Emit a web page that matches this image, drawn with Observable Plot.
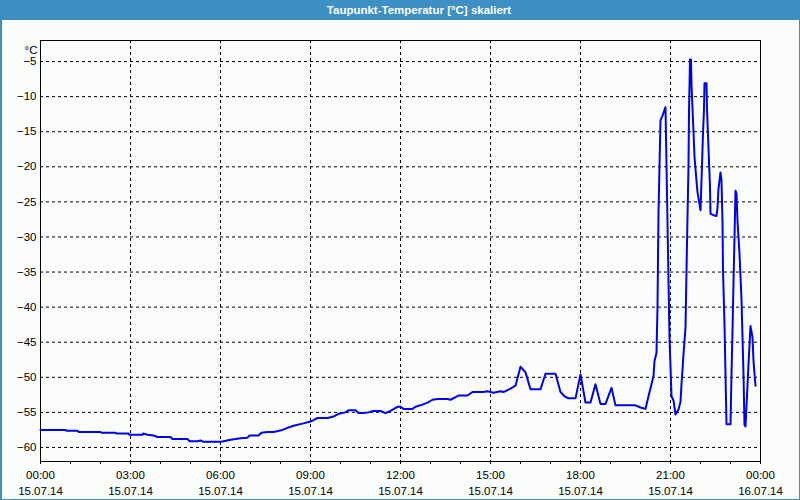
<!DOCTYPE html>
<html><head><meta charset="utf-8">
<script src="https://cdn.jsdelivr.net/npm/d3@7"></script>
<script src="https://cdn.jsdelivr.net/npm/@observablehq/plot@0.6"></script>
<style>
html,body{margin:0;padding:0;background:#fafdfa;}
#wrap{position:relative;width:800px;height:500px;overflow:hidden;background:#fafdfa;font-family:"Liberation Sans",Arial,sans-serif;}
#title{position:absolute;left:0;top:0;width:800px;height:20px;background:#3d8fc6;color:#fff;font-weight:bold;font-size:11.5px;line-height:20px;}
#title span{position:absolute;left:419px;transform:translateX(-50%);white-space:nowrap}
#chart{position:absolute;left:0;top:20px;}
.bl{position:absolute;background:#3d8fc6}
</style></head>
<body><div id="wrap"><div id="title"><span>Taupunkt-Temperatur [°C] skaliert</span></div><div id="chart"></div>
<div class="bl" style="left:0;top:0;width:2px;height:500px"></div>
<div class="bl" style="right:0;top:0;width:1px;height:500px"></div>
<div class="bl" style="left:0;bottom:0;width:800px;height:1px"></div>
</div>
<script>
const times = ["00:00","00:50","00:52","01:14","01:16","02:00","02:02","02:30","02:32","02:56","02:58","03:24","03:26","03:34","03:46","03:54","04:20","04:24","04:54","04:58","05:14","05:20","05:26","06:00","06:06","06:20","06:40","06:54","06:58","07:16","07:22","07:34","07:46","08:04","08:14","08:26","08:44","09:00","09:06","09:14","09:34","09:46","09:56","10:10","10:16","10:30","10:36","10:46","10:56","11:06","11:20","11:30","11:40","11:54","12:00","12:06","12:24","12:30","12:44","12:54","13:04","13:14","13:34","13:40","13:56","14:14","14:24","14:46","14:54","15:06","15:20","15:26","15:40","15:50","16:00","16:10","16:20","16:40","16:50","17:10","17:20","17:28","17:36","17:50","18:00","18:10","18:20","18:30","18:40","18:50","19:02","19:10","19:50","20:00","20:10","20:16","20:22","20:26","20:28","20:32","20:34","20:35","20:36","20:38","20:40","20:44","20:50","20:52","20:54","20:56","20:58","21:02","21:06","21:10","21:16","21:20","21:22","21:24","21:26","21:30","21:32","21:34","21:36","21:37","21:39","21:41","21:42","21:44","21:46","21:48","21:52","21:54","22:00","22:02","22:05","22:07","22:08","22:12","22:13","22:15","22:17","22:19","22:20","22:26","22:32","22:34","22:36","22:40","22:42","22:44","22:45","22:48","22:50","22:52","23:00","23:02","23:04","23:06","23:08","23:10","23:12","23:14","23:18","23:22","23:26","23:28","23:30","23:34","23:36","23:40","23:44","23:46","23:48","23:50"];
const values = [-57.5,-57.5,-57.6,-57.6,-57.8,-57.8,-57.9,-57.9,-58.0,-58.0,-58.2,-58.2,-58.0,-58.2,-58.3,-58.5,-58.5,-58.8,-58.8,-59.1,-59.1,-59.0,-59.2,-59.2,-59.1,-58.9,-58.7,-58.6,-58.3,-58.3,-57.9,-57.8,-57.8,-57.5,-57.2,-56.9,-56.6,-56.3,-56.1,-55.8,-55.8,-55.6,-55.2,-55.0,-54.7,-54.7,-55.1,-55.1,-55.0,-54.8,-54.8,-55.1,-54.8,-54.2,-54.2,-54.5,-54.5,-54.2,-53.9,-53.6,-53.2,-53.1,-53.1,-53.2,-52.6,-52.6,-52.1,-52.1,-52.0,-52.2,-52.0,-52.1,-51.6,-51.2,-48.5,-49.3,-51.7,-51.7,-49.5,-49.5,-52.1,-52.7,-53.0,-53.0,-49.6,-53.6,-53.6,-51.0,-53.8,-53.8,-51.5,-54.0,-54.0,-54.3,-54.5,-52.7,-51.0,-49.8,-47.7,-46.5,-40.0,-33.1,-26.7,-19.8,-13.4,-12.7,-11.5,-19.8,-27.9,-36.2,-44.3,-52.7,-53.3,-55.3,-54.6,-53.5,-51.0,-48.9,-46.7,-42.9,-34.8,-27.2,-19.8,-12.2,-4.7,-4.7,-8.3,-11.7,-15.0,-18.6,-22.0,-23.6,-26.2,-22.0,-15.2,-11.8,-8.1,-8.1,-11.8,-15.5,-19.3,-22.9,-26.7,-26.9,-27.0,-25.8,-23.1,-20.8,-22.0,-27.9,-34.8,-42.4,-49.6,-56.7,-56.7,-49.6,-43.4,-36.5,-30.1,-23.4,-23.8,-27.7,-32.4,-38.9,-49.6,-56.8,-57.0,-51.2,-48.1,-42.7,-44.3,-47.7,-49.5,-51.2];
const yTicks = [-60,-55,-50,-45,-40,-35,-30,-25,-20,-15,-10,-5];
const majorHours = [0,3,6,9,12,15,18,21,24];
const gridHours = [3,6,9,12,15,18,21];
const minorHours = d3.range(0, 25);

const at = (h, m = 0) => new Date(Date.UTC(2014, 6, 15, h, m));
const parse = s => { const [h, m] = s.split(":").map(Number); return at(h, m); };
const pad = n => String(n).padStart(2, "0");
const fmt = d => `${pad(d.getUTCHours())}:${pad(d.getUTCMinutes())}\n${pad(d.getUTCDate())}.${pad(d.getUTCMonth()+1)}.${String(d.getUTCFullYear()).slice(2)}`;

const data = times.map((t, i) => ({time: parse(t), value: values[i]}));

const chart = Plot.plot({
  width: 800, height: 480,
  marginLeft: 40, marginRight: 40, marginTop: 20, marginBottom: 39,
  style: {background: "transparent", fontFamily: "'Liberation Sans', Arial, sans-serif", fontSize: "11.5px", color: "black"},
  x: {type: "utc", domain: [at(0), at(24)]},
  y: {domain: [-62, -2]},
  marks: [
    Plot.ruleY(yTicks, {stroke: "black", strokeDasharray: "3,3", strokeWidth: 1}),
    Plot.ruleX(gridHours.map(h => at(h)), {stroke: "black", strokeDasharray: "3,3", strokeWidth: 1}),
    Plot.frame({stroke: "black"}),
    Plot.axisY({ticks: yTicks, tickSize: 0, tickPadding: 4, label: null, fill: "black"}),
    Plot.axisX({ticks: minorHours.map(h => at(h)), tickSize: 3, tickFormat: () => "", label: null}),
    Plot.axisX({ticks: majorHours.map(h => at(h)), tickSize: 3, tickPadding: 3, tickFormat: fmt, label: null, lineHeight: 1.42, fill: "black"}),
    Plot.text(["°C"], {frameAnchor: "top-left", dx: -3, dy: 5, textAnchor: "end", fill: "black"}),
    Plot.line(data, {x: "time", y: "value", stroke: "#0000ee", strokeWidth: 2})
  ]
});
document.getElementById("chart").appendChild(chart);
</script>
</body></html>
